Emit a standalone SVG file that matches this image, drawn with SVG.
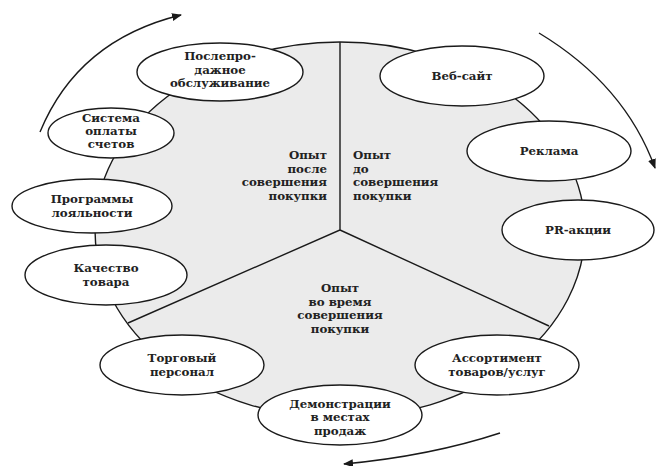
<svg xmlns="http://www.w3.org/2000/svg" width="656" height="466" viewBox="0 0 656 466">
<style>
.node ellipse{fill:#fff;stroke:#1a1a1a;stroke-width:1.4}
text{font-family:"DejaVu Serif","Liberation Serif",serif;font-weight:bold;font-size:11.8px;fill:#222;text-anchor:middle}
.conn{fill:none;stroke:#1a1a1a;stroke-width:1.4}
.arr{fill:none;stroke:#1a1a1a;stroke-width:1.4;marker-end:url(#ah)}
</style>
<defs>
<marker id="ah" viewBox="0 0 10 10" refX="9" refY="5" markerWidth="10" markerHeight="10" markerUnits="userSpaceOnUse" orient="auto">
<path d="M0,1 L10,5 L0,9 Z" fill="#1a1a1a"/>
</marker>
</defs>
<rect width="656" height="466" fill="#fff"/>
<g id="connectors">
<ellipse cx="340" cy="230" rx="245" ry="188" fill="#ebebeb" stroke="#1a1a1a" stroke-width="1.4"/>
<path class="conn" d="M340,42 L340,230 L128,323 M340,230 L549,326"/>
<path class="arr" d="M40,132 Q78,40 181,15"/>
<path class="arr" d="M539,33 Q625,85 655,168"/>
<path class="arr" d="M500,433 Q430,456 344,464"/>
</g>
<g id="sectors">
<text x="327" y="159" style="text-anchor:end">Опыт</text>
<text x="327" y="172.5" style="text-anchor:end">после</text>
<text x="327" y="186" style="text-anchor:end">совершения</text>
<text x="327" y="199.5" style="text-anchor:end">покупки</text>
<text x="353" y="159" style="text-anchor:start">Опыт</text>
<text x="353" y="172.5" style="text-anchor:start">до</text>
<text x="353" y="186" style="text-anchor:start">совершения</text>
<text x="353" y="199.5" style="text-anchor:start">покупки</text>
<text x="340" y="292">Опыт</text>
<text x="340" y="305.5">во время</text>
<text x="340" y="319">совершения</text>
<text x="340" y="332.5">покупки</text>
</g>
<g id="n-posleprod" class="node"><ellipse cx="220" cy="72" rx="83" ry="29"/><text x="220" y="60">Послепро-</text><text x="220" y="73.5">дажное</text><text x="220" y="87">обслуживание</text></g>
<g id="n-sistema" class="node"><ellipse cx="111" cy="133" rx="63" ry="25"/><text x="111" y="122">Система</text><text x="111" y="135">оплаты</text><text x="111" y="148">счетов</text></g>
<g id="n-programmy" class="node"><ellipse cx="92" cy="206" rx="80" ry="27"/><text x="92" y="203">Программы</text><text x="92" y="217">лояльности</text></g>
<g id="n-kachestvo" class="node"><ellipse cx="106" cy="275" rx="81" ry="30"/><text x="106" y="272">Качество</text><text x="106" y="286">товара</text></g>
<g id="n-torgovy" class="node"><ellipse cx="182" cy="365" rx="82" ry="30"/><text x="182" y="362">Торговый</text><text x="182" y="376">персонал</text></g>
<g id="n-demo" class="node"><ellipse cx="340" cy="415" rx="82" ry="30"/><text x="340" y="407.5">Демонстрации</text><text x="340" y="421">в местах</text><text x="340" y="434.5">продаж</text></g>
<g id="n-assort" class="node"><ellipse cx="497" cy="365" rx="82" ry="30"/><text x="497" y="362">Ассортимент</text><text x="497" y="376">товаров/услуг</text></g>
<g id="n-pr" class="node"><ellipse cx="578" cy="230" rx="76" ry="30"/><text x="578" y="234">PR-акции</text></g>
<g id="n-reklama" class="node"><ellipse cx="549" cy="151" rx="82" ry="30"/><text x="549" y="155">Реклама</text></g>
<g id="n-web" class="node"><ellipse cx="462" cy="76" rx="82" ry="30"/><text x="462" y="80">Веб-сайт</text></g>
</svg>
